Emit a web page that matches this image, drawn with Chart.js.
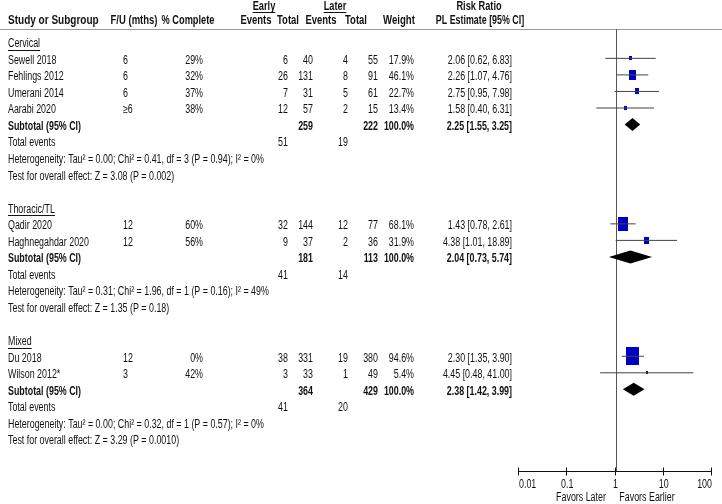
<!DOCTYPE html>
<html>
<head>
<meta charset="utf-8">
<script src="https://cdn.jsdelivr.net/npm/chart.js@4"></script>
<style>
  body { margin: 0; background: #fff; }
  #wrap { width: 722px; height: 504px; }
</style>
</head>
<body>
<div id="wrap"><canvas id="forest" width="722" height="504"></canvas></div>
<script>
// study level data
const studies = ['Sewell 2018', 'Fehlings 2012', 'Umerani 2014', 'Aarabi 2020', 'Qadir 2020', 'Haghnegahdar 2020', 'Du 2018', 'Wilson 2012*'];
const studyGroup = [0, 0, 0, 0, 1, 1, 2, 2];
const followUp = ['6', '6', '6', '≥6', '12', '12', '12', '3'];
const complete = ['29%', '32%', '37%', '38%', '60%', '56%', '0%', '42%'];
const earlyEvents = [6, 26, 7, 12, 32, 9, 38, 3];
const earlyTotal = [40, 131, 31, 57, 144, 37, 331, 33];
const laterEvents = [4, 8, 5, 2, 12, 2, 19, 1];
const laterTotal = [55, 91, 61, 15, 77, 36, 380, 49];
const weights = [17.9, 46.1, 22.7, 13.4, 68.1, 31.9, 94.6, 5.4];
const rr = [2.06, 2.26, 2.75, 1.58, 1.43, 4.38, 2.30, 4.45];
const rrLow = [0.62, 1.07, 0.95, 0.40, 0.78, 1.01, 1.35, 0.48];
const rrHigh = [6.83, 4.76, 7.98, 6.31, 2.61, 18.89, 3.90, 41.00];

// subgroup level data
const groups = ['Cervical', 'Thoracic/TL', 'Mixed'];
const groupEarlyTotal = [259, 181, 364];
const groupLaterTotal = [222, 113, 429];
const groupEarlyEvents = [51, 41, 41];
const groupLaterEvents = [19, 14, 20];
const pooledRR = [2.25, 2.04, 2.38];
const pooledLow = [1.55, 0.73, 1.42];
const pooledHigh = [3.25, 5.74, 3.99];
const heterogeneity = [
  'Heterogeneity: Tau² = 0.00; Chi² = 0.41, df = 3 (P = 0.94); I² = 0%',
  'Heterogeneity: Tau² = 0.31; Chi² = 1.96, df = 1 (P = 0.16); I² = 49%',
  'Heterogeneity: Tau² = 0.00; Chi² = 0.32, df = 1 (P = 0.57); I² = 0%'
];
const overallEffect = [
  'Test for overall effect: Z = 3.08 (P = 0.002)',
  'Test for overall effect: Z = 1.35 (P = 0.18)',
  'Test for overall effect: Z = 3.29 (P = 0.0010)'
];

const axisTicks = [0.01, 0.1, 1, 10, 100];
const axisLabels = ['0.01', '0.1', '1', '10', '100'];

const fmt = v => v.toFixed(2);
const ciText = (e, l, h) => fmt(e) + ' [' + fmt(l) + ', ' + fmt(h) + ']';

// lay the rows out one after another
const rows = [];
const studyRow = [];
let r = 0;
groups.forEach((g, gi) => {
  rows.push({kind: 'group', gi: gi, r: r++});
  studies.forEach((s, i) => {
    if (studyGroup[i] === gi) { studyRow[i] = r; rows.push({kind: 'study', i: i, r: r++}); }
  });
  rows.push({kind: 'subtotal', gi: gi, r: r++});
  rows.push({kind: 'total', gi: gi, r: r++});
  rows.push({kind: 'het', gi: gi, r: r++});
  rows.push({kind: 'test', gi: gi, r: r++});
  r++;
});

// whiskers, broken between studies
const whiskers = [];
studies.forEach((s, i) => {
  whiskers.push({x: rrLow[i], y: studyRow[i]}, {x: rrHigh[i], y: studyRow[i]}, {x: null, y: null});
});

// blue boxes sized from the weights
const boxes = weights.map(w => {
  const c = document.createElement('canvas');
  c.width = Math.max(2, Math.round(0.125 * w + 1.2));
  c.height = Math.round(c.width * 1.4);
  const g = c.getContext('2d');
  g.fillStyle = '#0000c4';
  g.fillRect(0, 0, c.width, c.height);
  return c;
});

const REG = '12px "Liberation Sans", Arial, sans-serif';
const BOLD = 'bold 12px "Liberation Sans", Arial, sans-serif';
const SX = 0.74;

function txt(ctx, s, x, y, align, font, sx) {
  ctx.save();
  ctx.font = font;
  ctx.translate(x, y);
  ctx.scale(sx || SX, 1);
  ctx.textAlign = align;
  ctx.textBaseline = 'middle';
  ctx.fillStyle = '#111';
  ctx.fillText(s, 0, 0);
  ctx.restore();
}

function underline(ctx, s, x, y, align, font, sx) {
  ctx.save();
  ctx.font = font;
  const w = ctx.measureText(s).width * (sx || SX);
  let x0 = x;
  if (align === 'center') x0 = x - w / 2;
  if (align === 'right') x0 = x - w;
  ctx.strokeStyle = '#111';
  ctx.lineWidth = 1;
  ctx.beginPath();
  ctx.moveTo(x0, Math.round(y) + 0.5);
  ctx.lineTo(x0 + w, Math.round(y) + 0.5);
  ctx.stroke();
  ctx.restore();
}

const forestPlugin = {
  id: 'forest',
  beforeDatasetsDraw(chart) {
    const ctx = chart.ctx;
    const xs = chart.scales.x;
    const bottom = chart.chartArea.bottom;
    // header rule
    ctx.save();
    ctx.strokeStyle = '#999';
    ctx.lineWidth = 1;
    ctx.beginPath();
    ctx.moveTo(0, 29.5);
    ctx.lineTo(722, 29.5);
    ctx.stroke();
    // line of no effect
    const x1 = Math.round(xs.getPixelForValue(1)) + 0.5;
    ctx.strokeStyle = '#555';
    ctx.beginPath();
    ctx.moveTo(x1, 29);
    ctx.lineTo(x1, bottom);
    ctx.stroke();
    ctx.restore();
  },
  afterDatasetsDraw(chart) {
    const ctx = chart.ctx;
    const xs = chart.scales.x;
    const ys = chart.scales.y;
    // pooled diamonds
    groups.forEach((g, gi) => {
      const row = rows.find(o => o.kind === 'subtotal' && o.gi === gi);
      const y = ys.getPixelForValue(row.r);
      ctx.save();
      ctx.fillStyle = '#000';
      ctx.beginPath();
      ctx.moveTo(xs.getPixelForValue(pooledLow[gi]), y);
      ctx.lineTo(xs.getPixelForValue(pooledRR[gi]), y - 6.5);
      ctx.lineTo(xs.getPixelForValue(pooledHigh[gi]), y);
      ctx.lineTo(xs.getPixelForValue(pooledRR[gi]), y + 6.5);
      ctx.closePath();
      ctx.fill();
      ctx.restore();
    });
  },
  afterDraw(chart) {
    const ctx = chart.ctx;
    const xs = chart.scales.x;
    const ys = chart.scales.y;
    const bottom = Math.round(chart.chartArea.bottom) - 0.5;

    // column headers
    txt(ctx, 'Early', 264, 7, 'center', BOLD, 0.77);
    underline(ctx, 'Early', 264, 12, 'center', BOLD, 0.77);
    txt(ctx, 'Later', 335, 7, 'center', BOLD, 0.77);
    underline(ctx, 'Later', 335, 12, 'center', BOLD, 0.77);
    txt(ctx, 'Risk Ratio', 479, 7, 'center', BOLD, 0.77);
    txt(ctx, 'Study or Subgroup', 8, 21, 'left', BOLD, 0.835);
    txt(ctx, 'F/U (mths)', 134, 21, 'center', BOLD, 0.79);
    txt(ctx, '% Complete', 188, 21, 'center', BOLD, 0.77);
    txt(ctx, 'Events', 256, 21, 'center', BOLD, 0.79);
    txt(ctx, 'Total', 288, 21, 'center', BOLD, 0.79);
    txt(ctx, 'Events', 321, 21, 'center', BOLD, 0.79);
    txt(ctx, 'Total', 356, 21, 'center', BOLD, 0.79);
    txt(ctx, 'Weight', 399, 21, 'center', BOLD, 0.8);
    txt(ctx, 'PL Estimate [95% CI]', 480, 21, 'center', BOLD, 0.74);

    // table body
    rows.forEach(o => {
      const y = ys.getPixelForValue(o.r) + 2;
      if (o.kind === 'group') {
        txt(ctx, groups[o.gi], 8, y, 'left', REG);
        underline(ctx, groups[o.gi], 8, y + 6, 'left', REG);
      } else if (o.kind === 'study') {
        const i = o.i;
        txt(ctx, studies[i], 8, y, 'left', REG);
        txt(ctx, followUp[i], 123, y, 'left', REG);
        txt(ctx, complete[i], 203, y, 'right', REG);
        txt(ctx, String(earlyEvents[i]), 288, y, 'right', REG);
        txt(ctx, String(earlyTotal[i]), 313, y, 'right', REG);
        txt(ctx, String(laterEvents[i]), 348, y, 'right', REG);
        txt(ctx, String(laterTotal[i]), 378, y, 'right', REG);
        txt(ctx, weights[i].toFixed(1) + '%', 414, y, 'right', REG);
        txt(ctx, ciText(rr[i], rrLow[i], rrHigh[i]), 512, y, 'right', REG);
      } else if (o.kind === 'subtotal') {
        const gi = o.gi;
        txt(ctx, 'Subtotal (95% CI)', 8, y, 'left', BOLD);
        txt(ctx, String(groupEarlyTotal[gi]), 313, y, 'right', BOLD);
        txt(ctx, String(groupLaterTotal[gi]), 378, y, 'right', BOLD);
        txt(ctx, '100.0%', 414, y, 'right', BOLD);
        txt(ctx, ciText(pooledRR[gi], pooledLow[gi], pooledHigh[gi]), 512, y, 'right', BOLD);
      } else if (o.kind === 'total') {
        txt(ctx, 'Total events', 8, y, 'left', REG);
        txt(ctx, String(groupEarlyEvents[o.gi]), 288, y, 'right', REG);
        txt(ctx, String(groupLaterEvents[o.gi]), 348, y, 'right', REG);
      } else if (o.kind === 'het') {
        txt(ctx, heterogeneity[o.gi], 8, y, 'left', REG);
      } else if (o.kind === 'test') {
        txt(ctx, overallEffect[o.gi], 8, y, 'left', REG);
      }
    });

    // log axis with crossing ticks
    ctx.save();
    ctx.strokeStyle = '#111';
    ctx.lineWidth = 1;
    ctx.beginPath();
    ctx.moveTo(xs.getPixelForValue(axisTicks[0]), bottom);
    ctx.lineTo(xs.getPixelForValue(axisTicks[axisTicks.length - 1]), bottom);
    axisTicks.forEach(t => {
      const x = Math.round(xs.getPixelForValue(t)) - 0.5;
      ctx.moveTo(x, bottom - 4);
      ctx.lineTo(x, bottom + 4);
    });
    ctx.stroke();
    ctx.restore();
    axisTicks.forEach((t, k) => {
      const x = xs.getPixelForValue(t);
      const align = k === 0 ? 'left' : (k === axisTicks.length - 1 ? 'right' : 'center');
      txt(ctx, axisLabels[k], x, bottom + 13, align, REG);
    });
    txt(ctx, 'Favors Later', 581, bottom + 26, 'center', REG);
    txt(ctx, 'Favors Earlier', 647, bottom + 26, 'center', REG);
  }
};

new Chart(document.getElementById('forest'), {
  type: 'scatter',
  data: {
    datasets: [
      {
        data: whiskers,
        showLine: true,
        spanGaps: false,
        borderColor: '#444',
        borderWidth: 1,
        pointRadius: 0
      },
      {
        data: rr.map((v, i) => ({x: v, y: studyRow[i]})),
        pointStyle: boxes,
        pointRadius: 3
      }
    ]
  },
  options: {
    responsive: false,
    animation: false,
    events: [],
    layout: {autoPadding: false, padding: {left: 519, right: 10, top: 0, bottom: 32}},
    scales: {
      x: {type: 'logarithmic', min: 0.01, max: 100, display: false},
      y: {type: 'linear', reverse: true, min: -2.526, max: 25.994, display: false}
    },
    plugins: {
      legend: {display: false},
      tooltip: {enabled: false}
    }
  },
  plugins: [forestPlugin]
});
</script>
</body>
</html>
